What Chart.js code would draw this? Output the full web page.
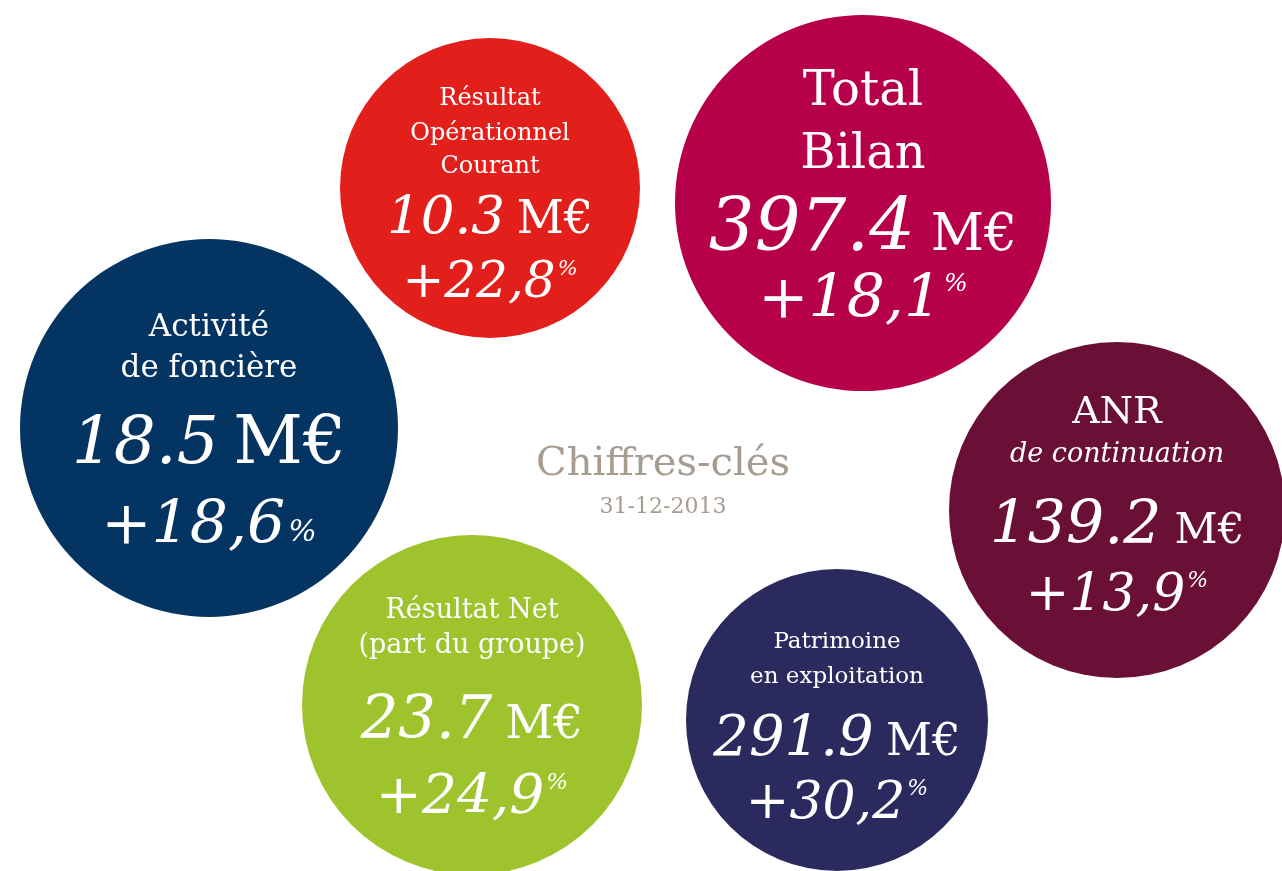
<!DOCTYPE html>
<html>
<head>
<meta charset="utf-8">
<script src="https://cdn.jsdelivr.net/npm/chart.js@4.4.1/dist/chart.umd.min.js"></script>
<style>
  html, body { margin: 0; padding: 0; background: #fff; }
  #wrap { width: 1282px; height: 871px; }
</style>
</head>
<body>
<div id="wrap"><canvas id="myChart" width="1282" height="871"></canvas></div>
<script>
// key figures 31-12-2013
const labels = [
  ["Résultat", "Opérationnel", "Courant"],
  ["Total", "Bilan"],
  ["Activité", "de foncière"],
  ["ANR", "de continuation"],
  ["Résultat Net", "(part du groupe)"],
  ["Patrimoine", "en exploitation"]
];
const amounts = [10.3, 397.4, 18.5, 139.2, 23.7, 291.9];
const growth = [22.8, 18.1, 18.6, 13.9, 24.9, 30.2];
const unit = "M€";

// bubble placement (scale units = page pixels)
const bubbleX = [490, 863, 209, 1117, 472, 837];
const bubbleY = [188, 203, 428, 510, 705, 720];
const bubbleR = [150, 188, 189, 168, 170, 151];

const colors = ["#e21f1b", "#b6004a", "#033462", "#6a0f36", "#9ec32c", "#2b2a5e"];

const title = "Chiffres-clés";
const subtitle = "31-12-2013";

// text layout per bubble (offsets from bubble center)
const textStyle = [
  { lines: [-83, -48, -15], lab: 24, num: 53, unit: 46, numY: 45, pct: 50, pctY: 109, sup: true },
  { lines: [-98, -35], lab: 48, num: 72, unit: 52, numY: 47, pct: 60, pctY: 114, sup: true },
  { lines: [-92, -51], lab: 31, num: 66, unit: 68, numY: 35, pct: 60, pctY: 115, sup: false },
  { lines: [-87, -48], lab: 38, num: 60, unit: 42, numY: 33, pct: 52, pctY: 100, sup: true, italic2: 27 },
  { lines: [-87, -52], lab: 27, num: 59, unit: 47, numY: 33, pct: 55, pctY: 108, sup: true },
  { lines: [-72, -37], lab: 23, num: 56, unit: 45, numY: 35, pct: 52, pctY: 98, sup: true }
];

const SERIF = "'DejaVu Serif', serif";

function drawRuns(ctx, cx, y, runs) {
  let total = 0;
  runs.forEach(r => { ctx.font = r.font; r.w = ctx.measureText(r.text).width; total += r.w + (r.gap || 0); });
  let x = cx - total / 2;
  runs.forEach(r => {
    ctx.font = r.font;
    x += r.gap || 0;
    ctx.fillText(r.text, x, y + (r.dy || 0));
    x += r.w;
  });
}

const textPlugin = {
  id: "bubbleText",
  afterDatasetsDraw(chart) {
    const ctx = chart.ctx;
    const meta = chart.getDatasetMeta(0);
    ctx.save();
    ctx.fillStyle = "#ffffff";
    ctx.textBaseline = "alphabetic";
    ctx.textAlign = "left";
    meta.data.forEach((pt, i) => {
      const s = textStyle[i];
      const cx = pt.x, cy = pt.y;
      labels[i].forEach((line, j) => {
        const italic = (j === 1 && s.italic2);
        const size = italic ? s.italic2 : s.lab;
        drawRuns(ctx, cx, cy + s.lines[j], [{ text: line, font: (italic ? "italic " : "") + size + "px " + SERIF }]);
      });
      drawRuns(ctx, cx, cy + s.numY, [
        { text: amounts[i].toFixed(1), font: "italic " + s.num + "px " + SERIF },
        { text: unit, font: s.unit + "px " + SERIF, gap: s.num * 0.22 }
      ]);
      const pctText = "+" + growth[i].toFixed(1).replace(".", ",");
      if (s.sup) {
        drawRuns(ctx, cx, cy + s.pctY, [
          { text: pctText, font: "italic " + s.pct + "px " + SERIF },
          { text: "%", font: "italic " + Math.round(s.pct * 0.42) + "px " + SERIF, dy: -s.pct * 0.44, gap: 2 }
        ]);
      } else {
        drawRuns(ctx, cx, cy + s.pctY, [
          { text: pctText, font: "italic " + s.pct + "px " + SERIF },
          { text: "%", font: "italic " + Math.round(s.pct * 0.5) + "px " + SERIF, gap: 3, dy: -2 }
        ]);
      }
    });
    // centre title
    const mx = chart.scales.x.getPixelForValue(663);
    const my = chart.scales.y.getPixelForValue(475);
    ctx.fillStyle = "#a69c91";
    ctx.textAlign = "center";
    ctx.font = "40px " + SERIF;
    ctx.fillText(title, mx, my);
    ctx.font = "22px " + SERIF;
    ctx.fillText(subtitle, mx, my + 38);
    ctx.restore();
  }
};

new Chart("myChart", {
  type: "bubble",
  data: {
    datasets: [{
      data: bubbleX.map((x, i) => ({ x: x, y: bubbleY[i], r: bubbleR[i] })),
      backgroundColor: colors,
      borderWidth: 0,
      hoverRadius: 0,
      clip: false
    }]
  },
  options: {
    responsive: false,
    animation: false,
    events: [],
    layout: { padding: 0, autoPadding: false },
    scales: {
      x: { type: "linear", min: 0, max: 1282, display: false },
      y: { type: "linear", min: 0, max: 871, reverse: true, display: false }
    },
    plugins: {
      legend: { display: false },
      tooltip: { enabled: false }
    }
  },
  plugins: [textPlugin]
});
</script>
</body>
</html>
